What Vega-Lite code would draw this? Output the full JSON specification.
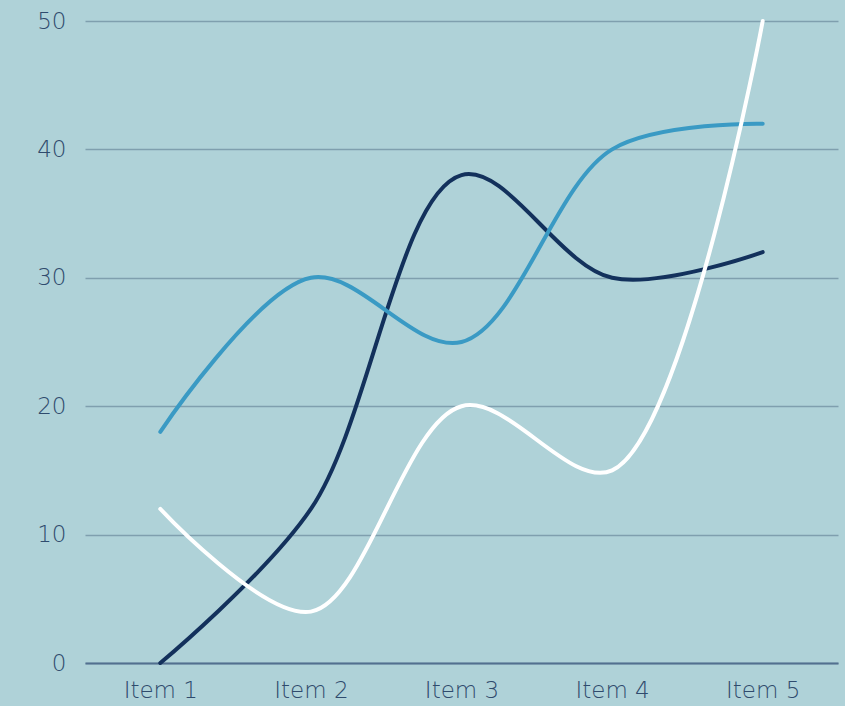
{
  "$schema": "https://vega.github.io/schema/vega-lite/v6.json",
  "width": 753,
  "height": 642,
  "autosize": "none",
  "padding": {"left": 85, "top": 21, "right": 7, "bottom": 43},
  "background": "#afd2d8",
  "config": {"view": {"stroke": null}},
  "data": {"values": [
    {"item": "Item 1", "series": "A", "value": 0},
    {"item": "Item 2", "series": "A", "value": 12},
    {"item": "Item 3", "series": "A", "value": 38},
    {"item": "Item 4", "series": "A", "value": 30},
    {"item": "Item 5", "series": "A", "value": 32},
    {"item": "Item 1", "series": "B", "value": 18},
    {"item": "Item 2", "series": "B", "value": 30},
    {"item": "Item 3", "series": "B", "value": 25},
    {"item": "Item 4", "series": "B", "value": 40},
    {"item": "Item 5", "series": "B", "value": 42},
    {"item": "Item 1", "series": "C", "value": 12},
    {"item": "Item 2", "series": "C", "value": 4},
    {"item": "Item 3", "series": "C", "value": 20},
    {"item": "Item 4", "series": "C", "value": 15},
    {"item": "Item 5", "series": "C", "value": 50}
  ]},
  "mark": {"type": "line", "interpolate": "catmull-rom", "strokeWidth": 4, "strokeCap": "round"},
  "encoding": {
    "x": {
      "field": "item", "type": "ordinal",
      "scale": {"type": "point", "padding": 0.5},
      "axis": {"title": null, "labelAngle": 0, "ticks": false, "grid": false,
        "domainColor": "#52708f", "domainWidth": 2,
        "labelFont": "DejaVu Sans", "labelFontSize": 23, "labelColor": "#2f4b6d", "labelPadding": 16, "labelFontWeight": 200}
    },
    "y": {
      "field": "value", "type": "quantitative",
      "scale": {"domain": [0, 50]},
      "axis": {"title": null, "values": [0, 10, 20, 30, 40, 50], "domain": false, "ticks": false,
        "gridColor": "#7f9fae", "gridWidth": 1.5,
        "labelFont": "DejaVu Sans", "labelFontSize": 23, "labelColor": "#2f4b6d", "labelPadding": 19, "labelFontWeight": 200}
    },
    "color": {
      "field": "series", "type": "nominal",
      "scale": {"domain": ["A", "B", "C"], "range": ["#13315c", "#3a9ac4", "#ffffff"]},
      "legend": null
    }
  }
}
